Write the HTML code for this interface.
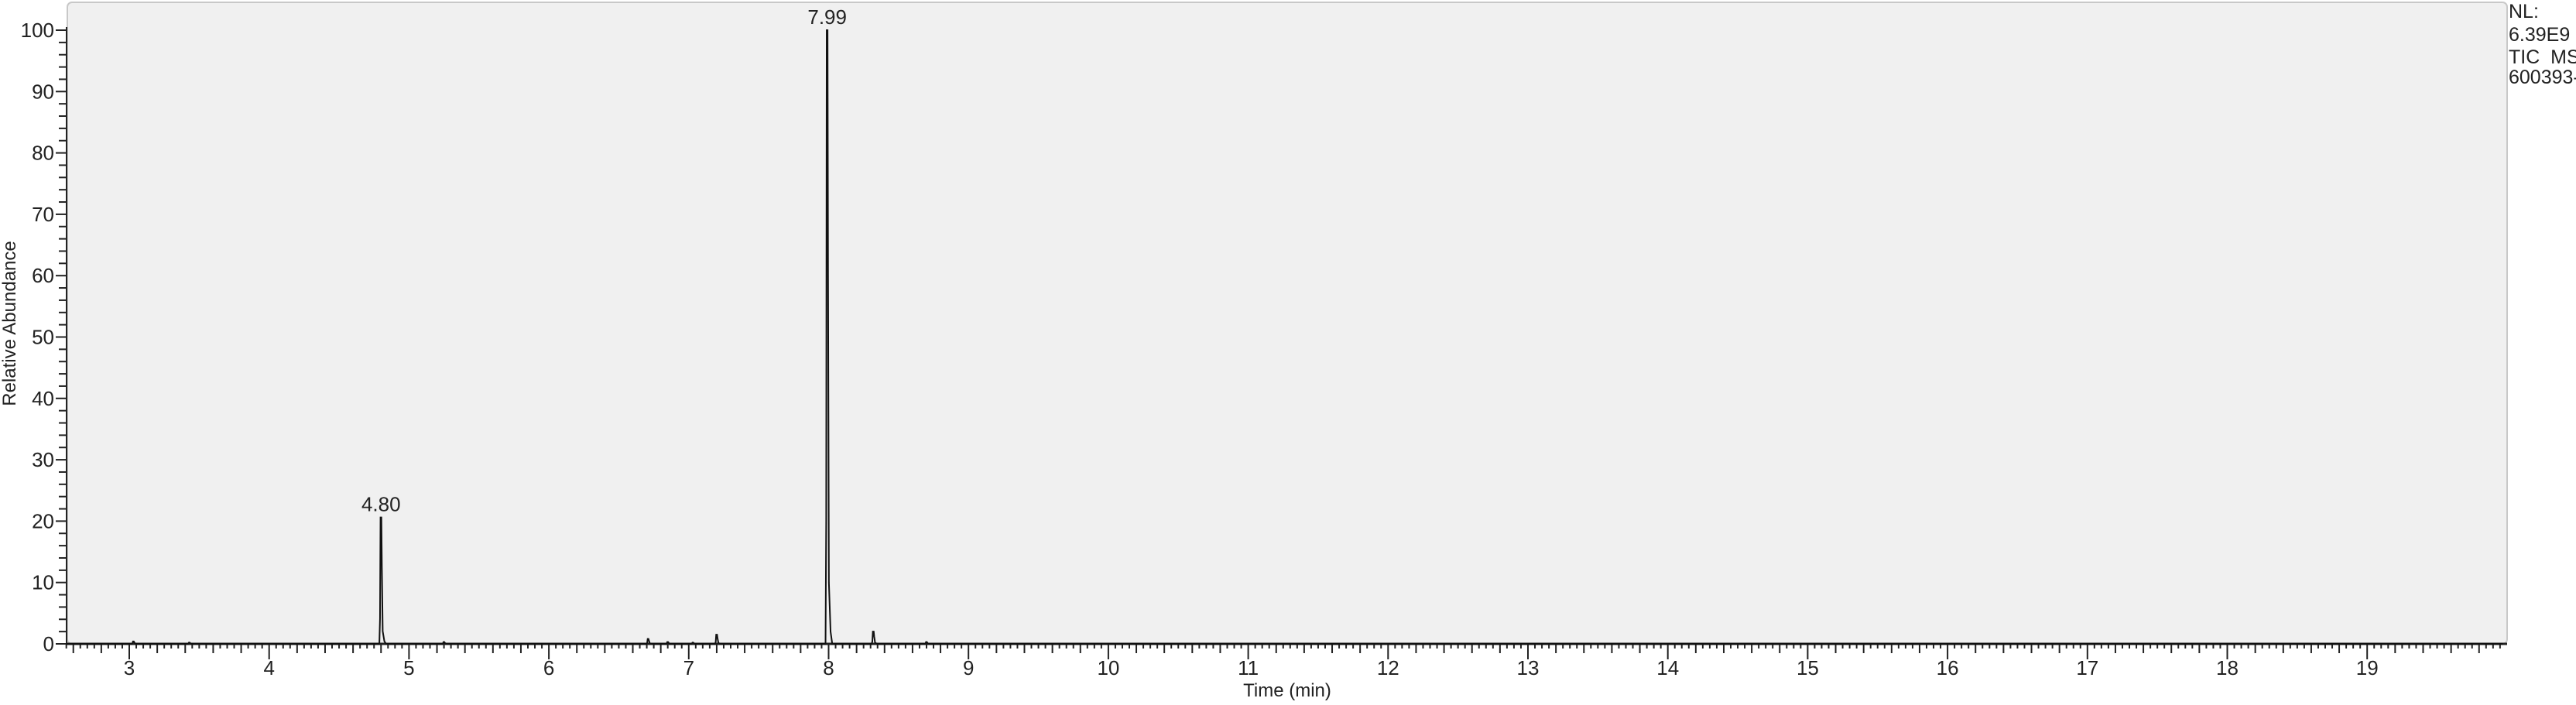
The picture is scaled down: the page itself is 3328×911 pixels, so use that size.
<!DOCTYPE html>
<html><head><meta charset="utf-8"><style>
html,body{margin:0;padding:0;background:#fff;}
svg{display:block;font-family:"Liberation Sans",Arial,sans-serif;}
</style></head><body>
<svg id="chart" width="3328" height="911" viewBox="0 0 3328 911" xmlns="http://www.w3.org/2000/svg">
<rect x="87" y="3" width="3152" height="829" rx="6" fill="#f0f0f0" stroke="#c8c8c8" stroke-width="2"/>
<g id="axes"></g>
<g id="trace"></g>
<text transform="translate(20,418) rotate(-90)" text-anchor="middle" font-size="24" fill="#222">Relative Abundance</text>
<text x="1663" y="900" text-anchor="middle" font-size="24" fill="#222">Time (min)</text>
<g font-size="25" fill="#222">
<text x="3241" y="23">NL:</text>
<text x="3241" y="53">6.39E9</text>
<text x="3241" y="82">TIC&#160;&#160;MS</text>
<text x="3241" y="108">600393-</text>
</g>
</svg>
<script>
const xTicks=[3,4,5,6,7,8,9,10,11,12,13,14,15,16,17,18,19];
const yTicks=[0,10,20,30,40,50,60,70,80,90,100];
const peakTimes=[3.03,3.43,4.80,5.25,6.71,6.85,7.03,7.20,7.99,8.32,8.70];
const peakHeights=[0.4,0.2,20.6,0.3,0.8,0.3,0.2,1.5,100,2.0,0.3];
const peakLabels=[{t:4.80,h:20.6,txt:"4.80"},{t:7.99,h:100,txt:"7.99"}];
const xMin=2.55,xMax=19.97;
const X=t=>167+(t-3)*180.7;
const Y=v=>832-v*7.93;
const NS="http://www.w3.org/2000/svg";
const axes=document.getElementById('axes'),trace=document.getElementById('trace');
function mk(tag,attrs,parent){const e=document.createElementNS(NS,tag);for(const k in attrs)e.setAttribute(k,attrs[k]);parent.appendChild(e);return e;}
const yl=mk('line',{x1:86,y1:Y(100)-4,x2:86,y2:832,stroke:'#222','stroke-width':2},axes);


for(let v=0;v<=100;v+=2){const major=v%10===0;mk('line',{x1:major?72:76,y1:Y(v),x2:86,y2:Y(v),stroke:'#222','stroke-width':2},axes);}
yTicks.forEach(v=>{const t=mk('text',{x:70,y:Y(v)+9,'text-anchor':'end','font-size':26,fill:'#222'},axes);t.textContent=v;

});
const xl=mk('line',{x1:86,y1:832,x2:3239,y2:832,stroke:'#222','stroke-width':3},axes);


for(let i=Math.ceil(xMin*20);i<=Math.floor(xMax*20);i++){const t=i/20;let len=6;if(i%4===0)len=12;if(i%20===0)len=20;mk('line',{x1:X(t),y1:832,x2:X(t),y2:832+len,stroke:'#222','stroke-width':2},axes);}
xTicks.forEach(v=>{const t=mk('text',{x:X(v),y:872,'text-anchor':'middle','font-size':26,fill:'#222'},axes);t.textContent=v;

});
let d=`M${X(xMin)} ${Y(0)}`;
peakTimes.forEach((t,i)=>{const h=peakHeights[i];const w=0.012;
d+=` L${X(t-w)} ${Y(0)} L${X(t-w*0.6)} ${Y(h*0.2)} L${X(t-w*0.3)} ${Y(h)} L${X(t+w*0.2)} ${Y(h)} L${X(t+w*0.5)} ${Y(h*0.6)} L${X(t+w)} ${Y(h*0.1)} L${X(t+w*2)} ${Y(h*0.02)} L${X(t+w*3)} ${Y(0)}`;});
d+=` L${X(xMax)} ${Y(0)}`;
const p=mk('path',{d:d,fill:'none',stroke:'#111','stroke-width':2,'stroke-linejoin':'miter'},trace);


peakLabels.forEach(l=>{const t=mk('text',{x:X(l.t),y:Y(l.h)-8,'text-anchor':'middle','font-size':26,fill:'#222'},trace);t.textContent=l.txt;

});
</script>
</body></html>
